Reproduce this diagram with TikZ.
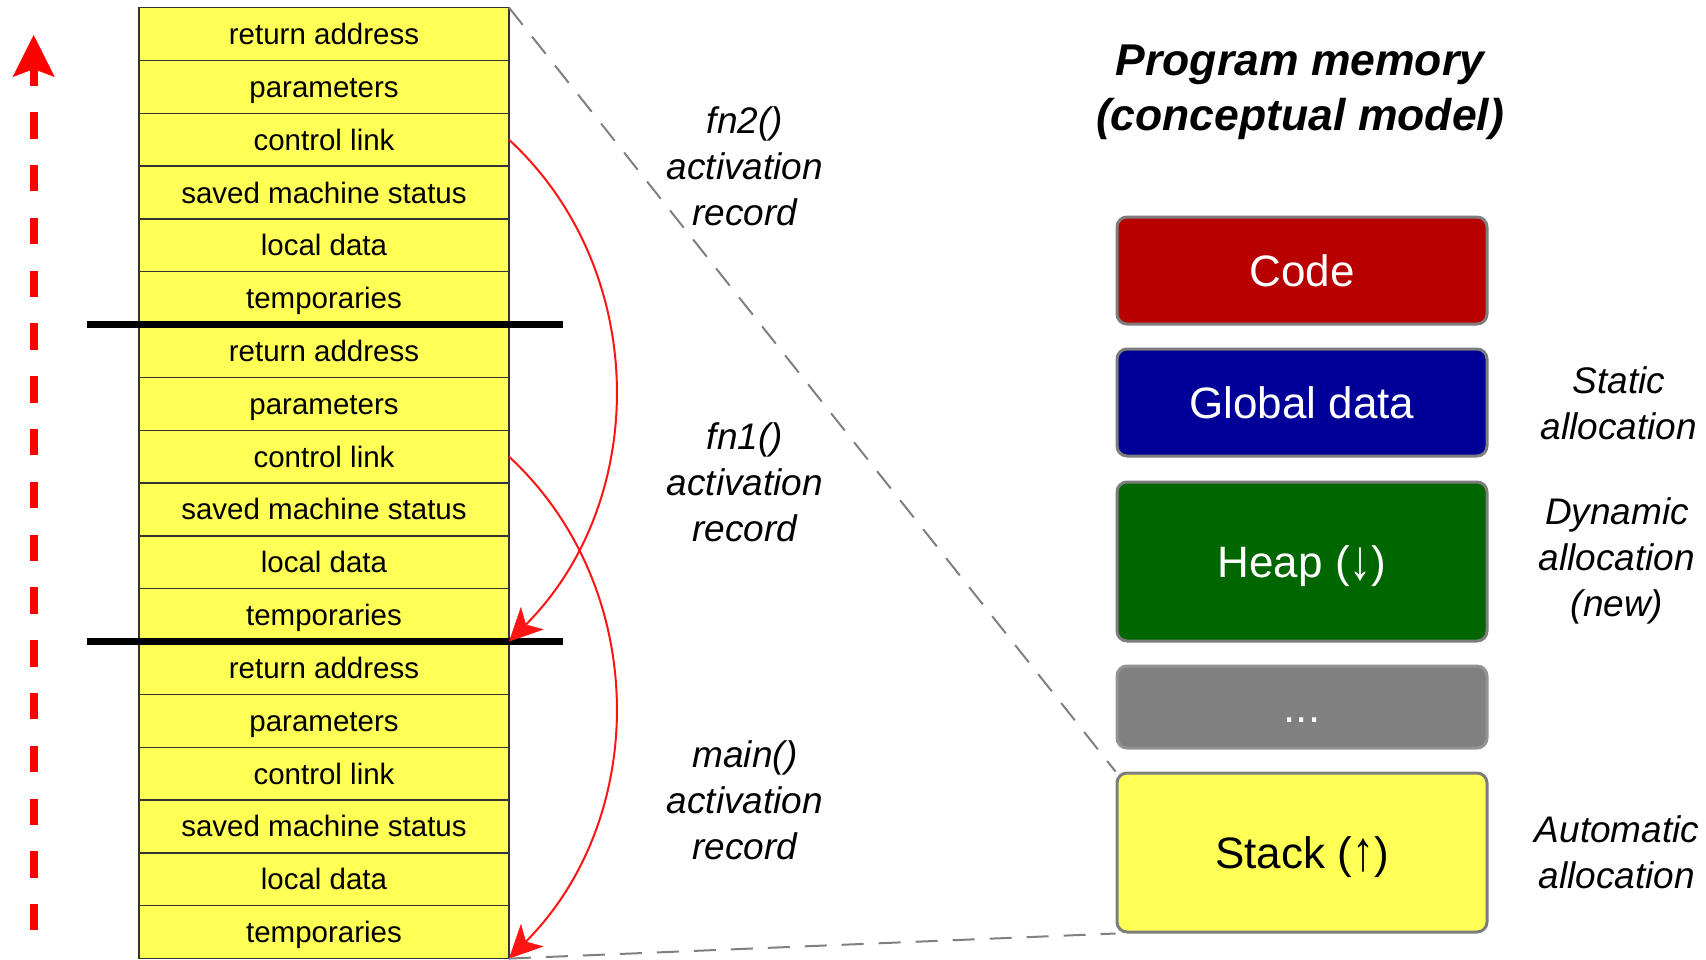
\documentclass[tikz,border=0pt]{standalone}
\usepackage{fontspec}
\usepackage{graphicx}
\setmainfont{Liberation Sans}
\usetikzlibrary{arrows.meta}

\definecolor{rowyellow}{RGB}{255,255,85}
\definecolor{codered}{RGB}{184,0,0}
\definecolor{globalblue}{RGB}{0,0,153}
\definecolor{heapgreen}{RGB}{0,102,0}
\definecolor{gapgray}{RGB}{128,128,128}
\definecolor{rimgray}{RGB}{125,125,125}
\definecolor{linkred}{RGB}{255,20,20}

% taller arrow glyphs for the growth directions
\newcommand{\growarrow}[1]{\raisebox{-0.05em}{\scalebox{1}[1.28]{#1}}}

\begin{document}
\begin{tikzpicture}[x=1pt,y=-1pt,
  row/.style={draw=black!80, line width=1.3pt, fill=rowyellow, anchor=north,
    minimum width=370pt, minimum height=52.83pt, inner sep=0pt, outer sep=0pt,
    text height=21pt, text depth=0pt, font=\fontsize{29.5}{35}\selectfont},
  frameline/.style={line width=6.5pt, draw=black},
  mem/.style={draw=rimgray, line width=3pt, rounded corners=10pt,
    minimum width=370pt, inner sep=0pt, text height=31.5pt, text depth=0pt,
    font=\fontsize{44}{52}\selectfont},
  lab/.style={font=\itshape\fontsize{37}{46}\selectfont, align=center},
  title/.style={font=\bfseries\itshape\fontsize{44.5}{55}\selectfont, align=center},
  zoomline/.style={draw=gray, line width=2pt, dash pattern=on 22pt off 15pt},
  link/.style={draw=linkred, line width=2pt,
    -{Stealth[length=33pt,width=32pt,inset=9pt,line width=0.5pt]}},
  growth/.style={draw=red, line width=8pt, dash pattern=on 26.4pt off 26.4pt,
    dash phase=9.4pt,
    {Stealth[length=42pt,width=42pt,inset=8pt,line width=0.5pt]}-}
]
\useasboundingbox (0,0) rectangle (1706,959);

% activation records on the run-time stack
\foreach \t [count=\i] in {return address, parameters, control link,
    saved machine status, local data, temporaries,
    return address, parameters, control link,
    saved machine status, local data, temporaries,
    return address, parameters, control link,
    saved machine status, local data, temporaries}
  \node[row] (r\i) at (324, {7.6+(\i-1)*52.83}) {\t};

% boundaries between the activation records
\draw[frameline] ([xshift=-52pt]r6.south west) -- ([xshift=54pt]r6.south east);
\draw[frameline] ([xshift=-52pt]r12.south west) -- ([xshift=54pt]r12.south east);

% direction of stack growth
\coordinate (g0) at (33.7, 930);
\coordinate (g1) at (33.7, 35);
\draw[growth] (g1) -- (g0);

% control links
\draw[link] (r3.east) .. controls (650,270) and (650,500) .. (r12.south east);
\draw[link] (r9.east) .. controls (650,587) and (650,817) .. (r18.south east);

% record labels
\node[lab] (l2) at (745, 166) {fn2()\\activation\\record};
\node[lab] (l1) at (745, 482) {fn1()\\activation\\record};
\node[lab] (l0) at (745, 800) {main()\\activation\\record};

% program memory
\node[title] (ttl) at (1300, 92) {Program memory\\(conceptual model)};
\node[mem, fill=codered, text=white, minimum height=107pt] (code) at (1302, 270.5) {Code};
\node[mem, fill=globalblue, text=white, minimum height=107pt] (glob) at (1302, 402.5) {Global data};
\node[mem, fill=heapgreen, text=white, minimum height=159pt] (heap) at (1302, 561.5) {Heap (\growarrow{↓})};
\node[mem, draw=gapgray!85!white, fill=gapgray, text=white, minimum height=82pt] (gap) at (1302, 707) {...};
\node[mem, fill=rowyellow, text=black, minimum height=159pt] (stack) at (1302, 852.5) {Stack (\growarrow{↑})};

% allocation kinds
\node[lab] (sa) at (1619, 403) {Static\\allocation};
\node[lab] (da) at (1617, 561) {Dynamic\\allocation\\(new)};
\node[lab] (aa) at (1617, 852) {Automatic\\allocation};

% the stack region expanded
\draw[zoomline] (r1.north east) -- (stack.north west);
\draw[zoomline] (r18.south east) -- (stack.south west);
\end{tikzpicture}
\end{document}
